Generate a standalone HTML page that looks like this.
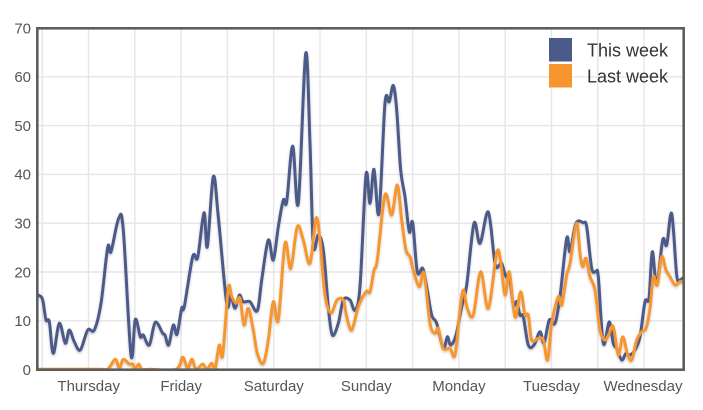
<!DOCTYPE html>
<html>
<head>
<meta charset="utf-8">
<style>
html,body{margin:0;padding:0;background:#fff;}
svg{display:block;}
text{font-family:"Liberation Sans",Arial,sans-serif;}
</style>
</head>
<body>
<svg id="chart" width="703" height="410" viewBox="0 0 703 410" xmlns="http://www.w3.org/2000/svg">
<defs>
<clipPath id="plot"><rect x="37" y="28" width="647" height="342"/></clipPath>
<filter id="sh" x="-5%" y="-5%" width="110%" height="115%">
<feDropShadow dx="0" dy="1.5" stdDeviation="1.2" flood-color="#000" flood-opacity="0.22"/>
</filter>
</defs>
<rect width="703" height="410" fill="#fff"/>
<g stroke="#e6e6e6" stroke-width="1.4" fill="none">
<line x1="37" y1="320.8" x2="684" y2="320.8"/>
<line x1="37" y1="272" x2="684" y2="272"/>
<line x1="37" y1="223.2" x2="684" y2="223.2"/>
<line x1="37" y1="174.4" x2="684" y2="174.4"/>
<line x1="37" y1="125.6" x2="684" y2="125.6"/>
<line x1="37" y1="76.8" x2="684" y2="76.8"/>
<line x1="42.2" y1="28" x2="42.2" y2="370"/>
<line x1="88.5" y1="28" x2="88.5" y2="370"/>
<line x1="134.8" y1="28" x2="134.8" y2="370"/>
<line x1="181.1" y1="28" x2="181.1" y2="370"/>
<line x1="227.4" y1="28" x2="227.4" y2="370"/>
<line x1="273.7" y1="28" x2="273.7" y2="370"/>
<line x1="320" y1="28" x2="320" y2="370"/>
<line x1="366.3" y1="28" x2="366.3" y2="370"/>
<line x1="412.6" y1="28" x2="412.6" y2="370"/>
<line x1="458.9" y1="28" x2="458.9" y2="370"/>
<line x1="505.2" y1="28" x2="505.2" y2="370"/>
<line x1="551.5" y1="28" x2="551.5" y2="370"/>
<line x1="597.8" y1="28" x2="597.8" y2="370"/>
<line x1="644.1" y1="28" x2="644.1" y2="370"/>
</g>

<g clip-path="url(#plot)" filter="url(#sh)">
<polyline class="s" fill="none" stroke="#4b5a88" stroke-width="3" stroke-linejoin="round" stroke-linecap="round" points="
30,295 37,295 39.3,295.5 42.7,300 46,320 49.3,321.7 53.3,353.3 59.3,323.3 65.3,343.3 69.3,330 74.3,341.7 80.3,350 87.7,330 94.3,330 101,303.3 107.7,247.3 111,251.7 118.7,218.3 123.3,230 131,355 135.3,319.3 140.3,336.7 143.3,335 149.3,345 155.3,322.3 162.7,333.3 165,335 168.7,345 173.3,325 177,334.3 181.7,308.3 184.3,306.7 192.7,256.7 197.7,257.3 204,212.7 207.3,246.7 213.3,176.7 218.3,216.7 226.7,303.3 230.7,295 235,308.3 239.3,295 243.3,301.7 250,301.7 257.3,310.7 261.7,280 268.3,240 273.3,260 278.3,226.7 283.3,200 286.7,201.7 292.7,146 298.3,203.3 305.7,53.5 310,143.3 313.3,245 318.3,235 323.3,250 328.3,306.7 332.3,335 338.3,323.3 343.3,300 350,300 355,310 360,286.7 366,175 370,203.3 374,169.3 379,213.3 385,103.3 389.3,101.7 393.3,85.5 396.7,110 400.7,170 405,196.7 409.3,231.7 412.7,222.7 417.3,271.7 422.7,268.3 426.7,286.7 431.7,315 436.7,323.3 443.3,348.3 447.3,336.7 450.7,345 456,335 461.7,306.7 466.7,285 474,223.3 480,243.3 488.3,212 495,263.3 499.3,265 501.7,263.3 506,276.7 509.3,275 513.3,305 516.7,301.7 520,315 523.3,316.7 528.3,345 534,345 540,331.7 544,343.3 549.3,320 555,323.3 560,296.7 566.7,238.3 570,251.7 576,223.3 583.3,222.7 586.7,226.7 591.7,268.3 596,271.7 598.3,276.7 603.3,343.3 609.3,321.7 613.3,343.3 616.7,348.3 621.7,360 626,353.3 630,355 635,350 640,336.7 645,301.7 649,298.3 652.3,251.7 656.7,285 662.7,240 666.7,245 671.7,213.5 676.7,275 680,280 684,277 690,276"/>
<polyline class="s" fill="none" stroke="#f7952f" stroke-width="3" stroke-linejoin="round" stroke-linecap="round" points="
30,369.3 37,369.3 100,369.3 107.7,369.3 115.3,359.3 119.3,368.3 123.3,359.3 129.3,364 132.7,364 135.3,369.3 138.7,364 142,369.3 150,369.3 176,369.3 182.7,357.3 187.7,368.3 192,359.3 196,369.3 202.7,364 206.7,369.3 211.7,363.3 215,369.3 219.3,345 222.7,355 228.3,288.3 231.7,296.7 236,303.3 240,298.3 244,325 248.3,308.3 253.3,330 257.3,353.3 263.3,363.3 268.3,340 273.3,301.7 278.3,320 285,243.3 290.7,268.3 297.3,226.7 303.3,240 310,263.3 316,218.3 320,240 325,295 331,313 337,300 343.3,300 346.7,316.7 351.7,330 358.3,306.7 366,291.7 370,291.7 374,270 377.3,260 385,195 391.7,215 397.3,185 401.7,220 406,250 410,256.7 413.3,270 419.3,286.7 424,273.3 430,323.3 435,333.3 438.3,328.3 443.3,348.3 450,348.3 455,355 460,310 463.3,290 467.3,308.3 473.3,315 480.7,271.7 488.3,308.3 496.7,252.7 500.7,261.7 505,295 509.3,271.7 513.3,306.7 516,316.7 520.7,291.7 525,315 528.3,315 531.7,340 538.3,338.3 543.3,340 547.7,360 551.7,323.3 558.3,296.7 561.7,305 566.7,275 570,263.3 576.5,223.3 580,253.3 582.7,266.7 586,258.3 590,276.7 595,290 600,330 605,340 609.3,333.3 613.3,326.7 618.3,355 622.7,336.7 627.3,353.3 631.7,360 636.7,340 641.7,331.7 646,328.3 650,308.3 653.3,276.7 657.3,285 661.7,256.7 666,270 670,276.7 675,285 680,281.7 684,281.7 690,281.7"/>
</g>

<rect x="37.3" y="28.3" width="646.4" height="341.4" fill="none" stroke="#5e5e5e" stroke-width="2.6"/>

<g font-size="15" fill="#555" text-anchor="end">
<text x="31" y="375">0</text>
<text x="31" y="326">10</text>
<text x="31" y="277.3">20</text>
<text x="31" y="228.5">30</text>
<text x="31" y="179.7">40</text>
<text x="31" y="130.9">50</text>
<text x="31" y="82.1">60</text>
<text x="31" y="33.3">70</text>
</g>
<g font-size="15" fill="#555" text-anchor="middle">
<text x="88.7" y="391">Thursday</text>
<text x="181.2" y="391">Friday</text>
<text x="273.8" y="391">Saturday</text>
<text x="366.3" y="391">Sunday</text>
<text x="458.9" y="391">Monday</text>
<text x="551.5" y="391">Tuesday</text>
<text x="643" y="391">Wednesday</text>
</g>

<rect x="549" y="38" width="23" height="23.5" fill="#4b5a88"/>
<rect x="549" y="64" width="23" height="23.5" fill="#f7952f"/>
<g font-size="18" fill="#333">
<text x="587" y="56.5">This week</text>
<text x="587" y="82.5">Last week</text>
</g>
</svg>
<script>
(function(){
  var pls=document.querySelectorAll('polyline.s');
  for(var i=0;i<pls.length;i++){
    var pl=pls[i];
    var raw=pl.getAttribute('points').trim().split(/\s+/);
    var p=[];
    for(var j=0;j<raw.length;j++){var c=raw[j].split(',');p.push([+c[0],+c[1]]);}
    var d='M'+p[0][0]+','+p[0][1];
    for(var k=0;k<p.length-1;k++){
      var p0=p[k-1]||p[k],p1=p[k],p2=p[k+1],p3=p[k+2]||p2;
      var t=6;
      var c1x=p1[0]+(p2[0]-p0[0])/t,c1y=p1[1]+(p2[1]-p0[1])/t;
      var c2x=p2[0]-(p3[0]-p1[0])/t,c2y=p2[1]-(p3[1]-p1[1])/t;
      d+=' C'+c1x.toFixed(2)+','+c1y.toFixed(2)+' '+c2x.toFixed(2)+','+c2y.toFixed(2)+' '+p2[0]+','+p2[1];
    }
    var path=document.createElementNS('http://www.w3.org/2000/svg','path');
    path.setAttribute('d',d);
    path.setAttribute('fill','none');
    path.setAttribute('stroke',pl.getAttribute('stroke'));
    path.setAttribute('stroke-width','3');
    path.setAttribute('stroke-linejoin','round');
    path.setAttribute('stroke-linecap','round');
    pl.parentNode.replaceChild(path,pl);
  }
})();
</script>
</body>
</html>
